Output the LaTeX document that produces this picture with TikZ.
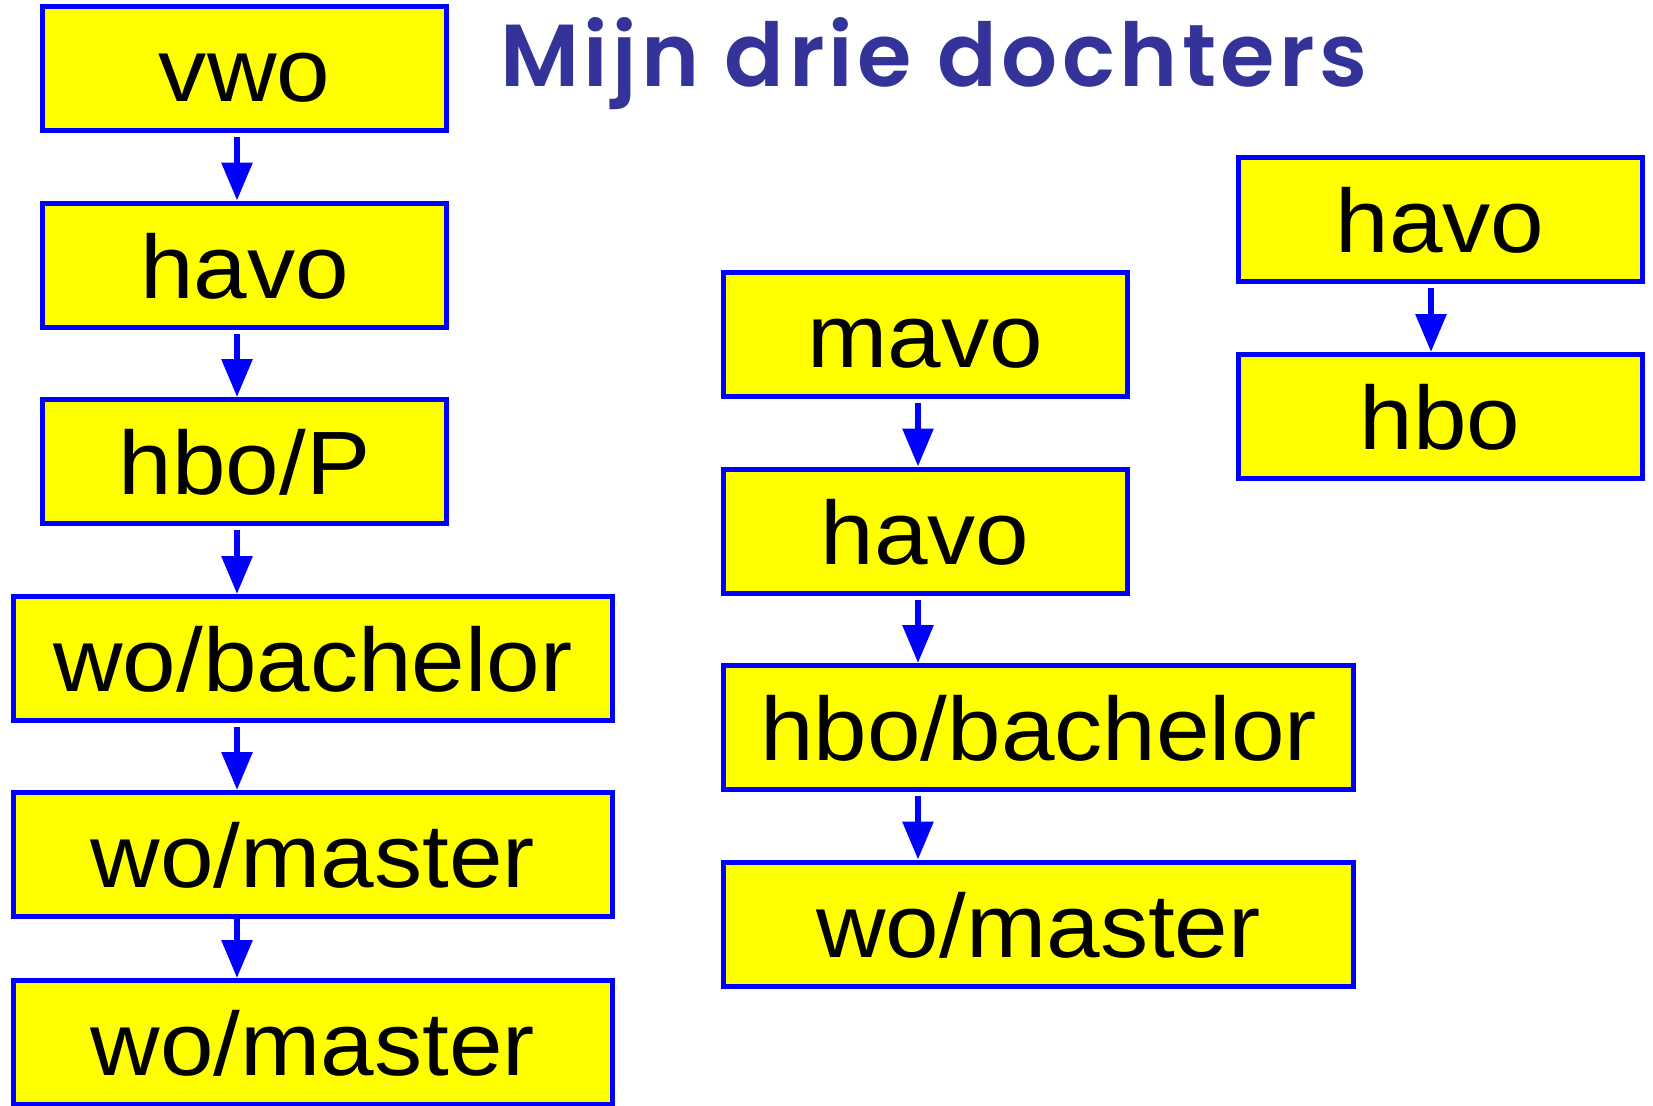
\documentclass[tikz,border=0pt]{standalone}
\usepackage{fontspec}
\setmainfont{Liberation Sans}
\newfontfamily\boxfont{Liberation Sans}[FakeStretch=1.07]
\newfontfamily\titlefont{Poppins}[UprightFont=* SemiBold, LetterSpace=5]
\usetikzlibrary{arrows.meta}
\definecolor{boxyellow}{RGB}{255,255,0}
\definecolor{boxblue}{RGB}{0,0,255}
\definecolor{titleblue}{RGB}{51,51,153}
\tikzset{
  stepbox/.style={draw=boxblue, fill=boxyellow, line width=5pt, minimum height=124pt,
    inner sep=0pt, text height=66pt, text depth=0pt,
    font=\boxfont\fontsize{90}{90}\selectfont},
  narrowbox/.style={stepbox, minimum width=404pt},
  widebox/.style={stepbox, minimum width=599pt},
  arr/.style={draw=boxblue, line width=6pt, -{Triangle[width=30pt,length=38pt]}, fill=boxblue}
}
\begin{document}
\begin{tikzpicture}[x=1pt,y=-1pt]
\useasboundingbox (0,0) rectangle (1653,1105);
% title
\node[anchor=base west, inner sep=0pt, text=titleblue, font=\titlefont\fontsize{88}{88}\selectfont] (title) at (500,87) {Mijn drie dochters};
% column x for arrows
\coordinate (ax1) at (237,0);
\coordinate (ax2) at (918,0);
\coordinate (ax3) at (1431,0);
% left column
\node[narrowbox] (vwo) at (244.5,68.5) {vwo};
\node[narrowbox] (havoL) at (244.5,265) {havo};
\node[narrowbox] (hboP) at (244.5,461.5) {hbo/P};
\node[widebox] (wob) at (313,658.5) {wo/bachelor};
\node[widebox] (wom1) at (313,854.5) {wo/master};
\node[widebox] (wom2) at (313,1042.5) {wo/master};
% middle column
\node[narrowbox] (mavo) at (925,334.5) {mavo};
\node[narrowbox] (havoM) at (925,531) {havo};
\node[stepbox, minimum width=630pt] (hbob) at (1038.5,727.5) {hbo/bachelor};
\node[stepbox, minimum width=630pt] (womM) at (1038.5,924) {wo/master};
% right column
\node[narrowbox] (havoR) at (1440,219.5) {havo};
\node[narrowbox] (hbo) at (1440,416.5) {hbo};
% arrows
\draw[arr, shorten <=4pt] (vwo.south -| ax1) -- (havoL.north -| ax1);
\draw[arr, shorten <=4pt] (havoL.south -| ax1) -- (hboP.north -| ax1);
\draw[arr, shorten <=4pt] (hboP.south -| ax1) -- (wob.north -| ax1);
\draw[arr, shorten <=4pt] (wob.south -| ax1) -- (wom1.north -| ax1);
\draw[arr] (wom1.south -| ax1) -- (wom2.north -| ax1);
\draw[arr, shorten <=4pt] (mavo.south -| ax2) -- (havoM.north -| ax2);
\draw[arr, shorten <=4pt] (havoM.south -| ax2) -- (hbob.north -| ax2);
\draw[arr, shorten <=4pt] (hbob.south -| ax2) -- (womM.north -| ax2);
\draw[arr, shorten <=4pt] (havoR.south -| ax3) -- (hbo.north -| ax3);
\end{tikzpicture}
\end{document}
